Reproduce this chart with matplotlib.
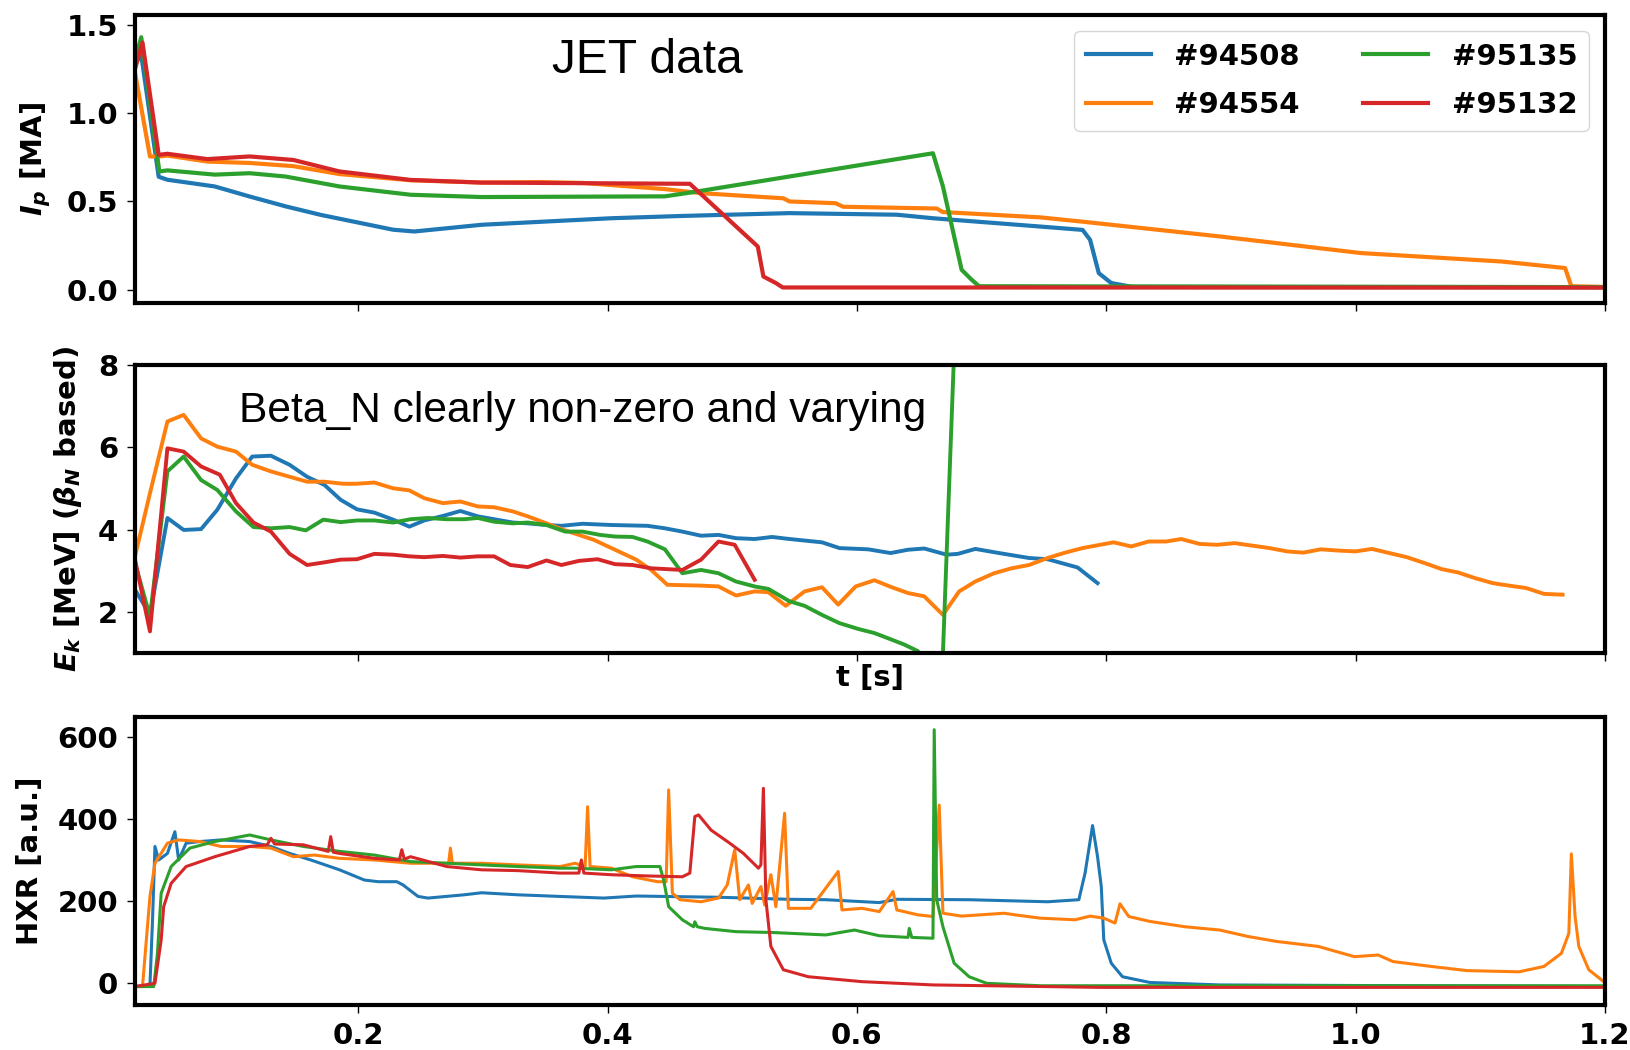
import matplotlib
matplotlib.use("Agg")
import matplotlib.pyplot as plt

# ---- shots ----
shots = ["#94508", "#94554", "#95135", "#95132"]
colors = ["#1f77b4", "#ff7f0e", "#2ca02c", "#d62728"]

# ---- plasma current I_p [MA] ----
t_ip_94508 = [0.021, 0.026, 0.040, 0.047, 0.085, 0.113, 0.142, 0.170, 0.228, 0.245, 0.299, 0.355,
              0.403, 0.460, 0.546, 0.632, 0.661, 0.747, 0.781, 0.787, 0.794, 0.804, 0.821, 1.200]
ip_94508 = [1.28, 1.33, 0.64, 0.623, 0.585, 0.528, 0.472, 0.424, 0.340, 0.330, 0.368, 0.388,
            0.405, 0.418, 0.434, 0.425, 0.405, 0.358, 0.339, 0.283, 0.094, 0.038, 0.016, 0.015]

t_ip_94554 = [0.021, 0.033, 0.040, 0.047, 0.079, 0.113, 0.148, 0.185, 0.242, 0.299, 0.346, 0.380,
              0.446, 0.475, 0.541, 0.546, 0.583, 0.589, 0.664, 0.669, 0.747, 0.779, 0.891, 1.004,
              1.117, 1.168, 1.173, 1.200]
ip_94554 = [1.23, 0.755, 0.755, 0.76, 0.726, 0.718, 0.700, 0.655, 0.620, 0.607, 0.610, 0.605,
            0.570, 0.547, 0.518, 0.500, 0.490, 0.470, 0.460, 0.440, 0.410, 0.387, 0.302, 0.208,
            0.160, 0.123, 0.020, 0.016]

t_ip_95135 = [0.021, 0.026, 0.0405, 0.047, 0.085, 0.113, 0.142, 0.185, 0.242, 0.299, 0.446, 0.466,
              0.661, 0.669, 0.684, 0.692, 0.698, 1.200]
ip_95135 = [1.30, 1.43, 0.67, 0.676, 0.652, 0.660, 0.641, 0.585, 0.538, 0.525, 0.529, 0.550,
            0.773, 0.585, 0.113, 0.057, 0.020, 0.015]

t_ip_95132 = [0.021, 0.027, 0.040, 0.047, 0.079, 0.113, 0.148, 0.185, 0.242, 0.299, 0.466, 0.5205,
              0.525, 0.535, 0.5405, 1.200]
ip_95132 = [1.25, 1.40, 0.764, 0.770, 0.740, 0.755, 0.735, 0.670, 0.622, 0.607, 0.600, 0.245,
            0.075, 0.038, 0.013, 0.012]

# ---- kinetic energy E_k [MeV] (beta_N based) ----
t_ek_94508 = [0.021, 0.033, 0.047, 0.060, 0.074, 0.087, 0.102, 0.115, 0.130, 0.145, 0.159, 0.173,
              0.186, 0.199, 0.213, 0.228, 0.241, 0.253, 0.268, 0.282, 0.296, 0.309, 0.324, 0.336,
              0.351, 0.363, 0.380, 0.403, 0.432, 0.446, 0.460, 0.475, 0.489, 0.503, 0.518, 0.532,
              0.546, 0.572, 0.586, 0.609, 0.627, 0.641, 0.654, 0.672, 0.681, 0.695, 0.712, 0.738,
              0.753, 0.777, 0.793]
ek_94508 = [2.55, 1.95, 4.29, 4.00, 4.02, 4.49, 5.25, 5.78, 5.80, 5.58, 5.29, 5.09,
            4.73, 4.50, 4.42, 4.25, 4.08, 4.23, 4.34, 4.46, 4.33, 4.26, 4.18, 4.16,
            4.12, 4.10, 4.15, 4.12, 4.10, 4.04, 3.96, 3.86, 3.88, 3.80, 3.78, 3.83,
            3.78, 3.70, 3.56, 3.53, 3.44, 3.52, 3.55, 3.40, 3.42, 3.54, 3.45, 3.32,
            3.29, 3.09, 2.71]

t_ek_94554 = [0.021, 0.033, 0.047, 0.060, 0.074, 0.087, 0.102, 0.115, 0.130, 0.145, 0.159, 0.173,
              0.188, 0.199, 0.213, 0.228, 0.241, 0.253, 0.268, 0.282, 0.296, 0.309, 0.324, 0.336,
              0.351, 0.363, 0.389, 0.406, 0.423, 0.435, 0.448, 0.475, 0.489, 0.503, 0.518, 0.529,
              0.543, 0.558, 0.572, 0.585, 0.599, 0.614, 0.628, 0.641, 0.654, 0.669, 0.682, 0.695,
              0.710, 0.724, 0.738, 0.753, 0.767, 0.781, 0.795, 0.806, 0.820, 0.834, 0.848, 0.860,
              0.875, 0.889, 0.903, 0.917, 0.931, 0.945, 0.958, 0.972, 0.986, 1.000, 1.013, 1.027,
              1.041, 1.055, 1.069, 1.082, 1.096, 1.110, 1.123, 1.137, 1.151, 1.166]
ek_94554 = [3.36, 4.89, 6.63, 6.79, 6.22, 6.02, 5.90, 5.58, 5.42, 5.29, 5.17, 5.17,
            5.12, 5.12, 5.15, 5.01, 4.96, 4.77, 4.65, 4.69, 4.57, 4.55, 4.45, 4.33,
            4.16, 4.02, 3.76, 3.52, 3.28, 3.03, 2.67, 2.65, 2.63, 2.41, 2.51, 2.49,
            2.16, 2.51, 2.61, 2.19, 2.63, 2.78, 2.61, 2.47, 2.39, 1.94, 2.51, 2.75,
            2.95, 3.07, 3.15, 3.32, 3.45, 3.56, 3.64, 3.70, 3.60, 3.72, 3.72, 3.78,
            3.66, 3.64, 3.68, 3.62, 3.56, 3.48, 3.45, 3.53, 3.50, 3.48, 3.54, 3.44,
            3.34, 3.20, 3.05, 2.97, 2.83, 2.71, 2.65, 2.59, 2.45, 2.43]

t_ek_95135 = [0.021, 0.033, 0.047, 0.060, 0.074, 0.087, 0.102, 0.116, 0.130, 0.145, 0.158, 0.172,
              0.186, 0.199, 0.213, 0.228, 0.242, 0.256, 0.271, 0.285, 0.296, 0.309, 0.324, 0.336,
              0.351, 0.366, 0.380, 0.394, 0.406, 0.420, 0.432, 0.446, 0.460, 0.475, 0.489, 0.503,
              0.518, 0.529, 0.546, 0.558, 0.572, 0.586, 0.601, 0.614, 0.627, 0.638, 0.649, 0.668,
              0.688]
ek_95135 = [3.20, 1.90, 5.42, 5.78, 5.21, 4.97, 4.45, 4.07, 4.04, 4.07, 3.99, 4.25,
            4.19, 4.23, 4.23, 4.18, 4.26, 4.29, 4.26, 4.26, 4.29, 4.20, 4.16, 4.18,
            4.12, 3.96, 3.96, 3.88, 3.84, 3.83, 3.72, 3.53, 2.95, 3.03, 2.95, 2.75,
            2.63, 2.57, 2.27, 2.16, 1.94, 1.74, 1.60, 1.50, 1.35, 1.22, 1.06, 0.20,
            16.5]

t_ek_95132 = [0.021, 0.033, 0.047, 0.060, 0.074, 0.089, 0.102, 0.116, 0.130, 0.145, 0.159, 0.172,
              0.186, 0.199, 0.213, 0.228, 0.241, 0.253, 0.268, 0.282, 0.296, 0.309, 0.322, 0.336,
              0.351, 0.363, 0.377, 0.392, 0.406, 0.420, 0.435, 0.460, 0.475, 0.489, 0.502, 0.518]
ek_95132 = [3.28, 1.54, 5.98, 5.90, 5.54, 5.34, 4.65, 4.18, 3.96, 3.42, 3.15, 3.21,
            3.28, 3.29, 3.42, 3.40, 3.36, 3.34, 3.37, 3.33, 3.36, 3.36, 3.15, 3.10,
            3.26, 3.15, 3.25, 3.29, 3.17, 3.15, 3.07, 3.03, 3.28, 3.72, 3.64, 2.79]

# ---- hard X-ray signal [a.u.] ----
t_hxr_94508 = [0.021, 0.033, 0.035, 0.037, 0.040, 0.047, 0.053, 0.056, 0.062, 0.073, 0.090, 0.113,
               0.130, 0.145, 0.162, 0.185, 0.205, 0.216, 0.231, 0.236, 0.248, 0.256, 0.285, 0.299,
               0.328, 0.362, 0.397, 0.423, 0.489, 0.546, 0.575, 0.618, 0.632, 0.690, 0.753, 0.778,
               0.783, 0.789, 0.793, 0.796, 0.798, 0.804, 0.813, 0.835, 0.891, 1.200]
hxr_94508 = [-8, -4, 150, 334, 301, 317, 370, 301, 342, 346, 350, 346,
             334, 317, 301, 277, 252, 248, 248, 240, 212, 208, 216, 221,
             216, 212, 208, 213, 210, 205, 204, 197, 205, 204, 199, 204,
             269, 385, 309, 236, 106, 49, 16, 2, -4, -8]

t_hxr_94554 = [0.021, 0.027, 0.033, 0.037, 0.047, 0.056, 0.073, 0.090, 0.113, 0.130, 0.148, 0.165,
               0.185, 0.213, 0.242, 0.2725, 0.274, 0.2755, 0.299, 0.328, 0.362, 0.374, 0.382, 0.384,
               0.386, 0.403, 0.420, 0.440, 0.447, 0.449, 0.452, 0.458, 0.475, 0.489, 0.496, 0.502,
               0.506, 0.513, 0.516, 0.523, 0.526, 0.531, 0.535, 0.542, 0.545, 0.563, 0.585, 0.588,
               0.604, 0.618, 0.629, 0.632, 0.649, 0.661, 0.666, 0.669, 0.684, 0.718, 0.727, 0.747,
               0.775, 0.787, 0.798, 0.807, 0.811, 0.818, 0.835, 0.863, 0.891, 0.914, 0.937, 0.970,
               0.999, 1.018, 1.030, 1.061, 1.089, 1.131, 1.151, 1.165, 1.171, 1.173, 1.176, 1.179,
               1.187, 1.199]
hxr_94554 = [-8, -8, 212, 293, 342, 350, 346, 334, 334, 330, 309, 313,
             305, 301, 293, 293, 330, 293, 293, 289, 285, 293, 285, 431,
             285, 281, 260, 248, 248, 472, 220, 204, 199, 208, 240, 326,
             204, 240, 195, 236, 191, 265, 187, 415, 183, 183, 273, 179,
             183, 175, 224, 179, 167, 163, 435, 171, 164, 171, 167, 159,
             155, 164, 159, 147, 194, 163, 151, 138, 130, 114, 102, 90,
             65, 69, 53, 41, 31, 28, 41, 73, 122, 316, 163, 90,
             33, 4]

t_hxr_95135 = [0.021, 0.036, 0.039, 0.042, 0.050, 0.065, 0.085, 0.113, 0.130, 0.156, 0.185, 0.213,
               0.242, 0.271, 0.299, 0.328, 0.362, 0.374, 0.403, 0.423, 0.442, 0.445, 0.449, 0.460,
               0.469, 0.470, 0.472, 0.478, 0.503, 0.532, 0.575, 0.598, 0.618, 0.641, 0.642, 0.644,
               0.661, 0.662, 0.664, 0.669, 0.678, 0.690, 0.704, 0.747, 1.200]
hxr_95135 = [-8, -8, 73, 220, 285, 330, 346, 362, 350, 334, 322, 313,
             297, 293, 289, 285, 281, 281, 277, 285, 285, 252, 187, 155,
             138, 150, 138, 134, 126, 124, 118, 130, 116, 112, 134, 112,
             110, 619, 204, 138, 49, 16, 0, -6, -6]

t_hxr_95132 = [0.021, 0.037, 0.042, 0.044, 0.050, 0.062, 0.085, 0.113, 0.127, 0.130, 0.133, 0.156,
               0.176, 0.178, 0.180, 0.185, 0.213, 0.233, 0.235, 0.237, 0.242, 0.271, 0.299, 0.328,
               0.362, 0.377, 0.379, 0.381, 0.403, 0.432, 0.460, 0.466, 0.470, 0.473, 0.483, 0.498,
               0.509, 0.521, 0.523, 0.525, 0.527, 0.531, 0.541, 0.561, 0.604, 0.661, 0.795, 1.200]
hxr_95132 = [-8, 0, 106, 187, 244, 285, 309, 334, 338, 354, 340, 338,
             322, 358, 320, 317, 305, 301, 326, 303, 309, 285, 277, 275,
             269, 269, 301, 269, 265, 262, 260, 269, 407, 411, 374, 342,
             317, 281, 289, 476, 204, 90, 33, 16, 4, -4, -10, -10]

ip_series = [(t_ip_94508, ip_94508), (t_ip_94554, ip_94554),
             (t_ip_95135, ip_95135), (t_ip_95132, ip_95132)]
ek_series = [(t_ek_94508, ek_94508), (t_ek_94554, ek_94554),
             (t_ek_95135, ek_95135), (t_ek_95132, ek_95132)]
hxr_series = [(t_hxr_94508, hxr_94508), (t_hxr_94554, hxr_94554),
              (t_hxr_95135, hxr_95135), (t_hxr_95132, hxr_95132)]

x_ticks = [0.2, 0.4, 0.6, 0.8, 1.0, 1.2]
ip_ticks = [0.0, 0.5, 1.0, 1.5]
ek_ticks = [2, 4, 6, 8]
hxr_ticks = [0, 200, 400, 600]

plt.rcParams.update({
    "font.family": "DejaVu Sans",
    "font.weight": "bold",
    "axes.labelweight": "bold",
    "font.size": 21,
    "axes.linewidth": 3.0,
    "xtick.major.size": 6,
    "ytick.major.size": 6,
    "xtick.major.width": 1.0,
    "ytick.major.width": 1.0,
    "xtick.major.pad": 6,
    "ytick.major.pad": 6,
})

W_PX, H_PX = 1631, 1050
fig = plt.figure(figsize=(W_PX / 100, H_PX / 100), dpi=100)


def panel(top, bottom, **kw):
    left, right = 135, 1605
    return fig.add_axes([left / W_PX, 1 - bottom / H_PX,
                         (right - left) / W_PX, (bottom - top) / H_PX], **kw)


ax1 = panel(15, 303)
ax2 = panel(365, 653, sharex=ax1)
ax3 = panel(717, 1005, sharex=ax1)

for (t, v), c, name in zip(ip_series, colors, shots):
    ax1.plot(t, v, color=c, lw=3.0, label=name)
for (t, v), c in zip(ek_series, colors):
    ax2.plot(t, v, color=c, lw=2.8)
for (t, v), c in zip(hxr_series, colors):
    ax3.plot(t, v, color=c, lw=2.2)

ax1.set_xlim(0.021, 1.2)
ax1.set_xticks(x_ticks)
ax3.set_xticklabels([f"{x:.1f}" for x in x_ticks])
ax1.tick_params(labelbottom=False)
ax2.tick_params(labelbottom=False)

ax1.set_ylim(-0.075, 1.556)
ax1.set_yticks(ip_ticks)
ax1.set_yticklabels([f"{y:.1f}" for y in ip_ticks])
ax2.set_ylim(1.016, 8.0)
ax2.set_yticks(ek_ticks)
ax3.set_ylim(-53, 650)
ax3.set_yticks(hxr_ticks)

ax1.set_ylabel(r"$I_p$ [MA]", labelpad=10)
ax2.set_ylabel(r"$E_k$ [MeV] ($\beta_N$ based)", labelpad=10)
ax3.set_ylabel("HXR [a.u.]", labelpad=10)
ax2.set_xlabel("t [s]", labelpad=2)

ax1.legend(loc="upper right", ncol=2, handlelength=2.25, handletextpad=0.8,
           columnspacing=2.15, labelspacing=0.7, borderaxespad=0.55,
           prop={"weight": "bold", "size": 21})

ax1.text(0.284, 0.80, "JET data", transform=ax1.transAxes, family="Liberation Sans",
         fontweight="normal", fontsize=34.5, va="baseline", ha="left")
ax2.text(0.0705, 0.803, "Beta_N clearly non-zero and varying", transform=ax2.transAxes,
         family="Liberation Sans", fontweight="normal", fontsize=30.6, va="baseline", ha="left")

fig.savefig("out.png", dpi=100)
